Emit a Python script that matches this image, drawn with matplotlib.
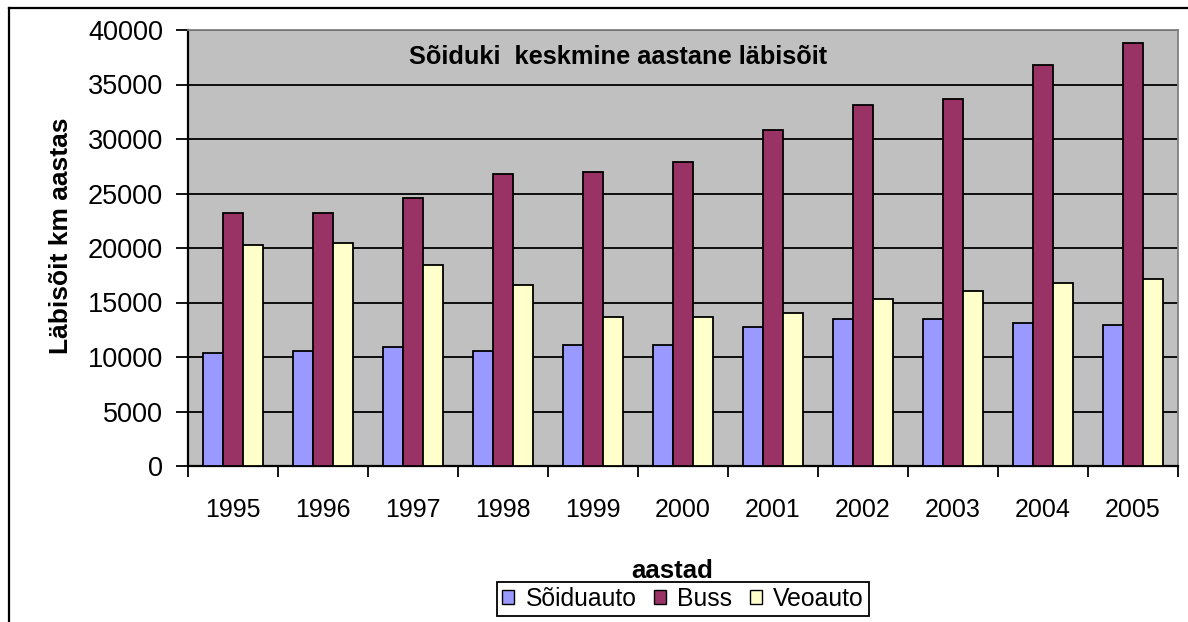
import numpy as np
import matplotlib.pyplot as plt
from matplotlib.lines import Line2D
from matplotlib.patches import Patch

# data
years = ['1995', '1996', '1997', '1998', '1999', '2000', '2001', '2002', '2003', '2004', '2005']
soiduauto = [10400, 10550, 10950, 10550, 11130, 11130, 12750, 13490, 13490, 13120, 12940]
buss = [23250, 23250, 24560, 26760, 26950, 27850, 30780, 33150, 33700, 36820, 38850]
veoauto = [20280, 20500, 18450, 16600, 13680, 13680, 14050, 15320, 16080, 16800, 17170]

series_names = ['Sõiduauto', 'Buss', 'Veoauto']
colors = ['#9999FF', '#993366', '#FFFFCC']

plt.rcParams['font.family'] = ['Liberation Sans', 'DejaVu Sans']

fig = plt.figure(figsize=(11.88, 6.22), dpi=100)
ax = fig.add_axes([188 / 1188, 1 - 466 / 622, 990 / 1188, 436 / 622])
ax.set_facecolor('#C0C0C0')

x = np.arange(len(years))
w = 2 / 9
for i, (vals, col) in enumerate(zip([soiduauto, buss, veoauto], colors)):
    ax.bar(x + (i - 1) * w, vals, width=w, color=col, edgecolor='black',
           linewidth=1.3, zorder=3)

ax.set_xlim(-0.5, len(years) - 0.5)
ax.set_ylim(0, 40000)
ax.set_yticks(np.arange(0, 40001, 5000))
ax.yaxis.grid(True, color='black', linewidth=1.3, zorder=1)
ax.set_axisbelow(True)

# category labels at centres, ticks at the boundaries
ax.set_xticks(x)
ax.set_xticklabels(years)
ax.set_xticks(np.arange(-0.5, len(years)), minor=True)
ax.tick_params(axis='x', which='major', length=0, pad=23, labelsize=18)
ax.tick_params(axis='x', which='minor', length=8, width=1.3, direction='out')
ax.tick_params(axis='y', length=9, width=1.3, direction='out', pad=9, labelsize=19.5)

for s in ['top', 'right']:
    ax.spines[s].set_color('#808080')
    ax.spines[s].set_linewidth(1.3)
for s in ['left', 'bottom']:
    ax.spines[s].set_color('black')
    ax.spines[s].set_linewidth(1.6)

fig.text(618 / 1188, 1 - 57 / 622, 'Sõiduki  keskmine aastane läbisõit',
         ha='center', va='center', fontsize=18.3, fontweight='bold')
fig.text(61 / 1188, 1 - 236 / 622, 'Läbisõit km aastas', rotation=90,
         ha='center', va='center', fontsize=19, fontweight='bold')
fig.text(672 / 1188, 1 - 571 / 622, 'aastad', ha='center', va='center',
         fontsize=18.5, fontweight='bold')

handles = [Patch(facecolor=c, edgecolor='black', linewidth=1.0) for c in colors]
leg = fig.legend(handles, series_names, loc='center', bbox_to_anchor=(683 / 1188, 1 - 599 / 622),
                 ncol=3, fontsize=17.8, frameon=True, fancybox=False, framealpha=1,
                 handlelength=0.5, handleheight=0.5, handletextpad=0.45, columnspacing=0.7,
                 borderpad=0.2, borderaxespad=0)
leg.get_frame().set_edgecolor('black')
leg.get_frame().set_linewidth(1.3)

# outer chart frame (only top and left visible in the reference)
fig.add_artist(Line2D([9 / 1188, 1], [1 - 8 / 622, 1 - 8 / 622], color='black', linewidth=1.6,
                      transform=fig.transFigure))
fig.add_artist(Line2D([9 / 1188, 9 / 1188], [0, 1 - 8 / 622], color='black', linewidth=1.6,
                      transform=fig.transFigure))

fig.savefig('out.png', dpi=100)
